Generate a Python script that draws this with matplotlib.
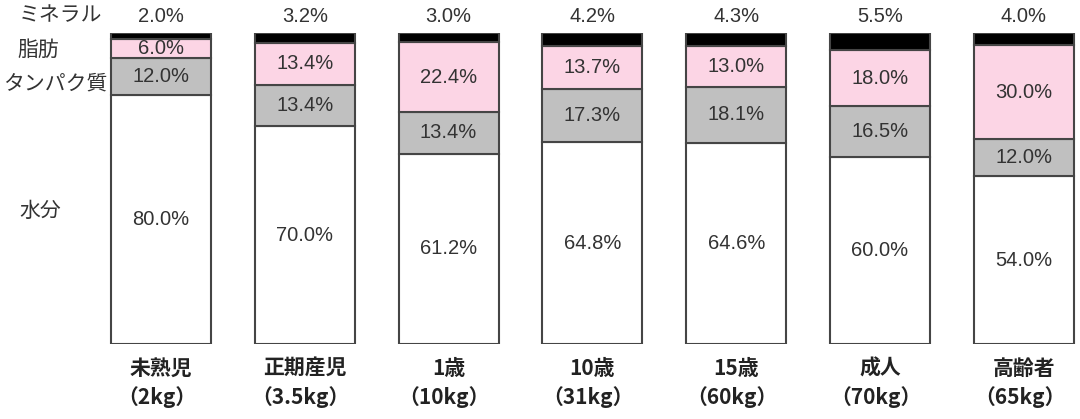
import numpy as np
import matplotlib
matplotlib.use("Agg")
import matplotlib.pyplot as plt

plt.rcParams["font.family"] = ["Noto Sans CJK JP", "DejaVu Sans"]

# body composition by age group (%)
groups = ["未熟児", "正期産児", "1歳", "10歳", "15歳", "成人", "高齢者"]
weights = ["（2kg）", "（3.5kg）", "（10kg）", "（31kg）", "（60kg）", "（70kg）", "（65kg）"]
water = [80.0, 70.0, 61.2, 64.8, 64.6, 60.0, 54.0]
protein = [12.0, 13.4, 13.4, 17.3, 18.1, 16.5, 12.0]
fat = [6.0, 13.4, 22.4, 13.7, 13.0, 18.0, 30.0]
mineral = [2.0, 3.2, 3.0, 4.2, 4.3, 5.5, 4.0]

layers = [
    ("水分", water, "white"),
    ("タンパク質", protein, "#c0c0c0"),
    ("脂肪", fat, "#fcd5e5"),
    ("ミネラル", mineral, "black"),
]

fig = plt.figure(figsize=(10.8, 4.19), dpi=100)
ax = fig.add_axes([0, 75 / 419, 1, 311 / 419])

x = np.arange(len(groups))
width = 0.695
bottom = np.zeros(len(groups))
for name, vals, color in layers:
    vals = np.array(vals)
    ax.bar(x, vals, width, bottom=bottom, color=color, edgecolor="#454545", linewidth=1.5)
    if name != "ミネラル":
        for xi, b, v in zip(x, bottom, vals):
            ax.text(xi, b + v / 2, f"{v:.1f}%", ha="center", va="center",
                    fontsize=14.5, color="#333333", family="Liberation Sans")
    bottom += vals

for xi, v in zip(x, mineral):
    ax.text(xi, 105.2, f"{v:.1f}%", ha="center", va="center", fontsize=14.5,
            color="#333333", family="Liberation Sans", clip_on=False)

for xi, g, w in zip(x, groups, weights):
    ax.text(xi, -7.9, g, ha="center", va="center", fontsize=15, fontweight="bold",
            color="#222222", clip_on=False)
    ax.text(xi - 0.03, -17.0, w, ha="center", va="center", fontsize=15, fontweight="bold",
            color="#222222", clip_on=False)

ax.set_xlim(-161 / 143.8, (1080 - 161) / 143.8)
ax.set_ylim(0, 100)
ax.axis("off")

# legend labels at left
side = [("ミネラル", 60, 15), ("脂肪", 38, 50), ("タンパク質", 55, 84), ("水分", 40, 211)]
for txt, px, py in side:
    fig.text(px / 1080, 1 - py / 419, txt, ha="center", va="center",
             fontsize=15, color="#333333")

fig.savefig("out.png", dpi=100)
